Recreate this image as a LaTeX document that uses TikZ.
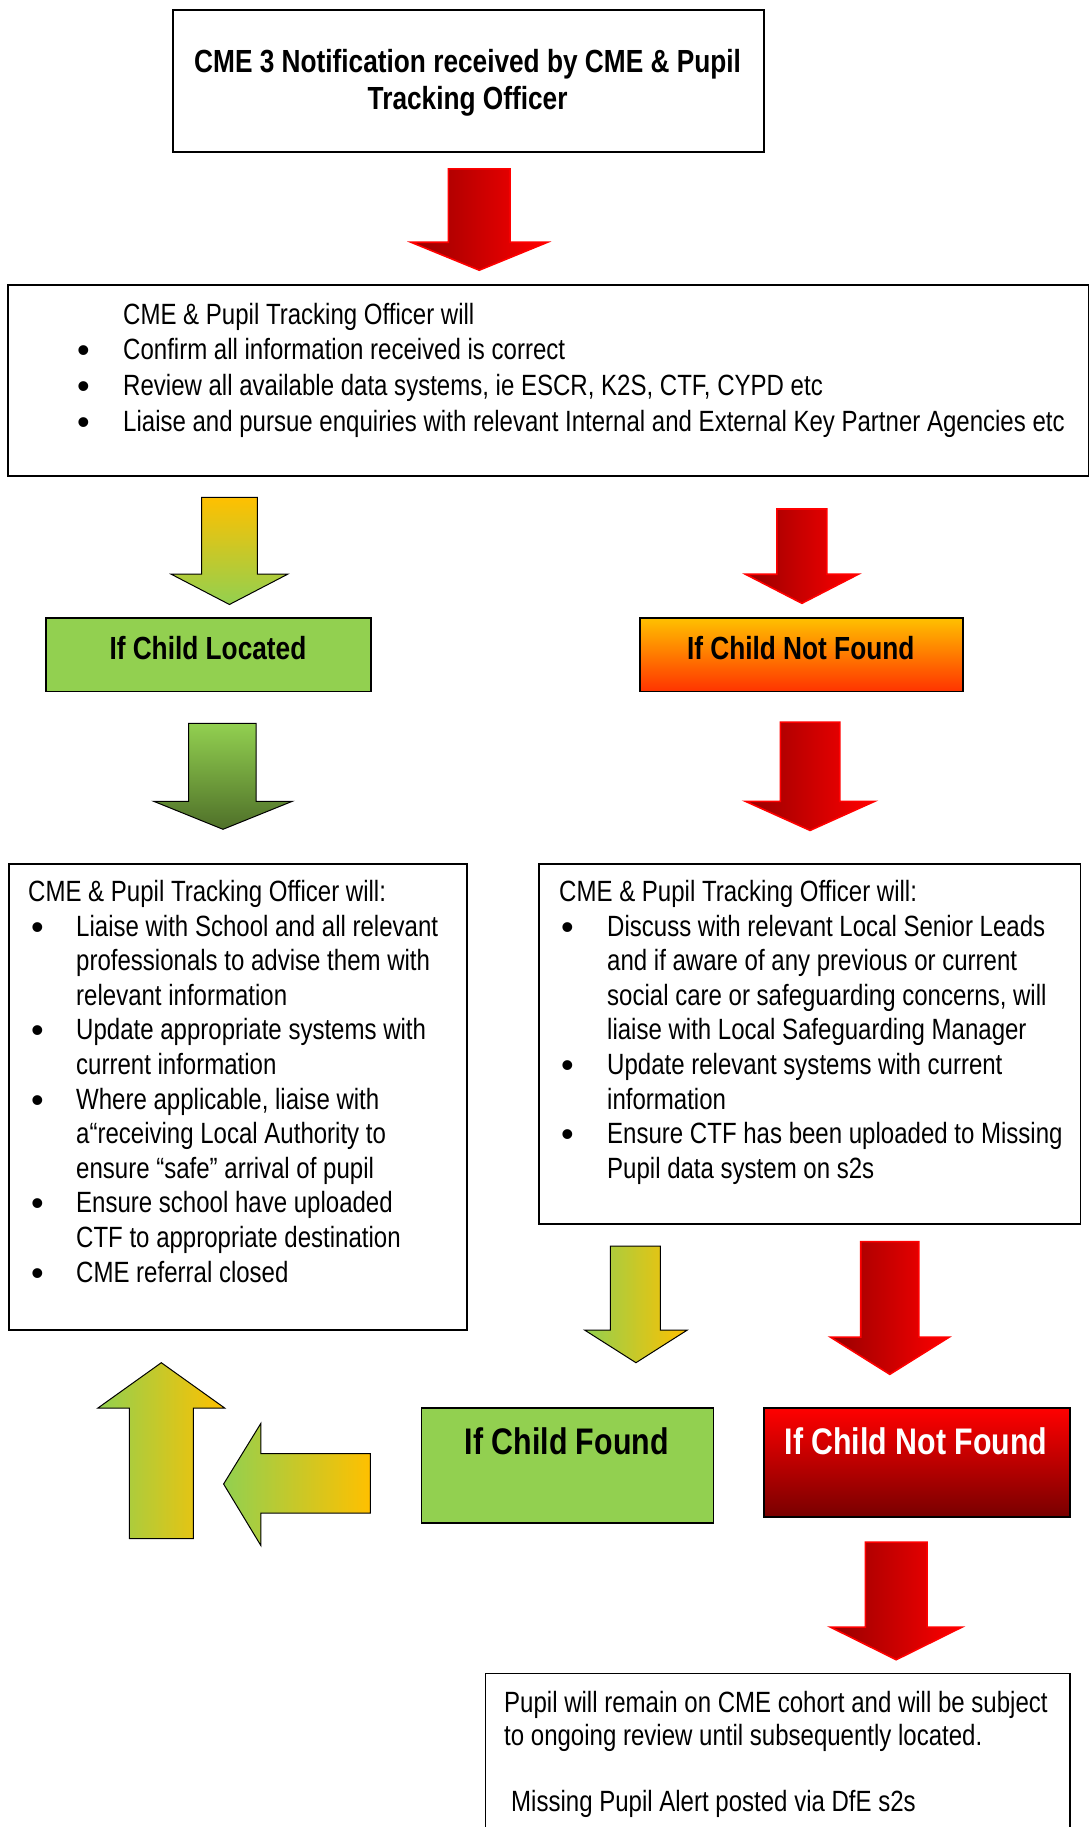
\documentclass[tikz,border=0pt]{standalone}
\usepackage{fontspec}
\setmainfont{Liberation Sans}[FakeStretch=0.82]
\newfontfamily\bulfont{Liberation Sans}
\usepackage{array}
\definecolor{lgreen}{HTML}{92D050}
\definecolor{gold}{HTML}{FFC000}
\definecolor{dgreen}{HTML}{4F7029}
\definecolor{dred}{HTML}{960000}
\definecolor{orred}{HTML}{FF3300}
\definecolor{maroonc}{HTML}{780000}
\newcommand\bdown[8]{\path[#1] (#2,#4) -- (#3,#4) -- (#3,#7) -- (#6,#7) -- ({(#5+#6)/2},#8) -- (#5,#7) -- (#2,#7) -- cycle;}
\newcommand\bul{\raisebox{-3pt}{\fontsize{36}{36}\bulfont\textbullet}}
\tikzset{
  frame/.style={draw=black, line width=1.6pt, inner sep=0pt, anchor=north west},
  body/.style={inner sep=0pt, anchor=base west, font=\fontsize{29.3}{34.6}\selectfont},
  ttl/.style={inner sep=0pt, anchor=base, font=\fontsize{32}{37}\selectfont\bfseries},
  bigttl/.style={inner sep=0pt, anchor=base, font=\fontsize{37}{42}\selectfont\bfseries},
  garrow/.style={draw=black, line width=1pt},
  rarrow/.style={draw=red, line width=1.6pt, left color=dred, right color=red},
}
\begin{document}
\begin{tikzpicture}[x=1pt,y=-1pt]
\useasboundingbox (0,0) rectangle (1089,1827);
\clip (0,0) rectangle (1089,1827);
\fill[white] (0,0) rectangle (1089,1827);

% top box
\node[frame, minimum width=590.5pt, minimum height=142.1pt] (notif) at (172.4,9.3) {};
\node[inner sep=0pt, align=center, font=\fontsize{32}{37}\selectfont\bfseries] (notiftxt) at (467.6,83) {CME 3 Notification received by CME \& Pupil\\Tracking Officer};

\bdown{rarrow}{448.4}{510.1}{168.9}{411.1}{547.4}{242.3}{270.2}

% box 2
\node[frame, minimum width=1080.8pt, minimum height=191pt] (review) at (7,284.2) {};
\node[body, font=\fontsize{29.3}{35.7}\selectfont] (reviewtxt) at (77,324) {\begin{tabular}[t]{@{}p{46pt}@{}l@{}}
 & CME \& Pupil Tracking Officer will\\
\bul & Confirm all information received is correct\\
\bul & Review all available data systems, ie ESCR, K2S, CTF, CYPD etc\\
\bul & Liaise and pursue enquiries with relevant Internal and External Key Partner Agencies etc
\end{tabular}};

% arrows row 2
\bdown{garrow, top color=gold, bottom color=lgreen}{201.5}{257.4}{497.3}{171.2}{287.7}{574.2}{604.5}
\bdown{rarrow}{776.9}{826.9}{509}{745.4}{858.4}{574.2}{603.3}

% located / not found
\node[frame, fill=lgreen, minimum width=325pt, minimum height=73.4pt] (located) at (45.4,617.3) {};
\node[ttl] (locatedtxt) at (207.9,659.5) {If Child Located};
\node[frame, top color=gold, middle color=orange!60!gold, bottom color=orred, minimum width=322.6pt, minimum height=73.4pt] (notfound) at (639.4,617.3) {};
\node[ttl] (notfoundtxt) at (800.7,659.5) {If Child Not Found};

% arrows row 3
\bdown{garrow, top color=lgreen, bottom color=dgreen}{188.7}{256.2}{723.3}{153.7}{292.3}{801.3}{829.3}
\bdown{rarrow}{780.3}{839.8}{722.1}{745.4}{874.7}{801.3}{830.4}

% left box
\node[frame, minimum width=457.7pt, minimum height=465.9pt] (locbox) at (8.2,863) {};
\node[body] (lochead) at (28,901.5) {CME \& Pupil Tracking Officer will:};
\node[body] (loclist) at (31,936.1) {\begin{tabular}[t]{@{}p{45pt}@{}l@{}}
\bul & Liaise with School and all relevant\\
 & professionals to advise them with\\
 & relevant information\\
\bul & Update appropriate systems with\\
 & current information\\
\bul & Where applicable, liaise with\\
 & a“receiving Local Authority to\\
 & ensure “safe” arrival of pupil\\
\bul & Ensure school have uploaded\\
 & CTF to appropriate destination\\
\bul & CME referral closed
\end{tabular}};

% right box
\node[frame, minimum width=541.6pt, minimum height=359.9pt] (nfbox) at (538.1,863) {};
\node[body] (nfhead) at (559,901.5) {CME \& Pupil Tracking Officer will:};
\node[body] (nflist) at (561,936.1) {\begin{tabular}[t]{@{}p{46pt}@{}l@{}}
\bul & Discuss with relevant Local Senior Leads\\
 & and if aware of any previous or current\\
 & social care or safeguarding concerns, will\\
 & liaise with Local Safeguarding Manager\\
\bul & Update relevant systems with current\\
 & information\\
\bul & Ensure CTF has been uploaded to Missing\\
 & Pupil data system on s2s
\end{tabular}};

% arrows row 4
\bdown{garrow, left color=lgreen, right color=gold}{610.3}{660.4}{1246.2}{584.7}{687.2}{1330.1}{1362.7}
\bdown{rarrow}{860.7}{918.9}{1241.6}{830.4}{949.2}{1337.1}{1374.3}

% found / not found
\node[frame, fill=lgreen, minimum width=292.3pt, minimum height=115.3pt] (found) at (420.5,1407) {};
\node[bigttl] (foundtxt) at (566.7,1454) {If Child Found};
\node[frame, top color=red, middle color=red!80!black, bottom color=maroonc, minimum width=306.3pt, minimum height=109.4pt] (notfound2) at (762.9,1407) {};
\node[bigttl, text=white] (notfound2txt) at (916,1454) {If Child Not Found};

% left and up arrows
\path[garrow, left color=lgreen, right color=gold] (370.4,1453.5) -- (260.9,1453.5) -- (260.9,1423.3) -- (223.6,1484) -- (260.9,1545.6) -- (260.9,1513) -- (370.4,1513) -- cycle;
\path[garrow, left color=lgreen, right color=gold] (129.3,1538.6) -- (129.3,1408.1) -- (97.8,1408.1) -- (161.3,1362.7) -- (224.8,1408.1) -- (193.3,1408.1) -- (193.3,1538.6) -- cycle;

% last red arrow
\bdown{rarrow}{865.4}{927.1}{1542.1}{830.4}{962}{1627.1}{1659.7}

% bottom box
\node[frame, minimum width=584.7pt, minimum height=200pt] (cohort) at (484.5,1672.5) {};
\node[body, font=\fontsize{29.3}{33.8}\selectfont] (cohorttxt) at (504,1712) {\begin{tabular}[t]{@{}l@{}}Pupil will remain on CME cohort and will be subject\\to ongoing review until subsequently located.\end{tabular}};
\node[body] (alerttxt) at (511,1811) {Missing Pupil Alert posted via DfE s2s};
\end{tikzpicture}
\end{document}
